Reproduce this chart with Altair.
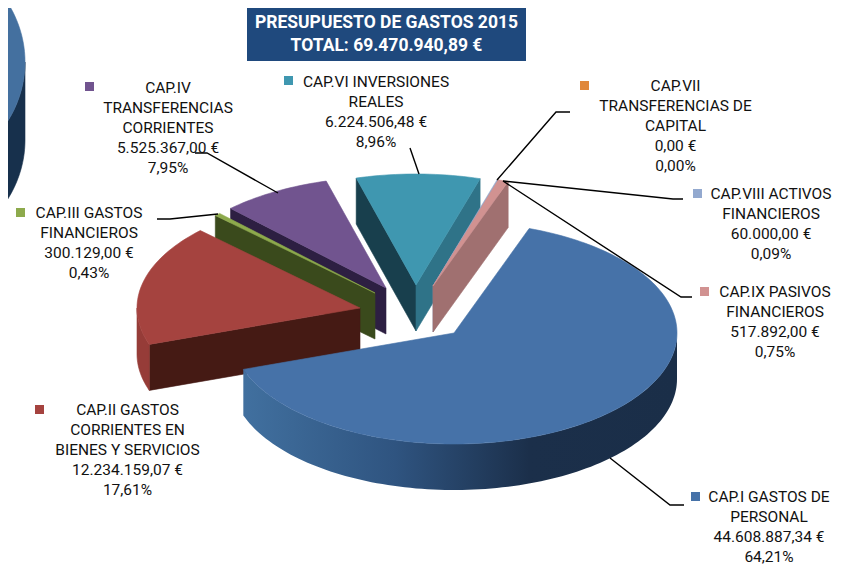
import math
import altair as alt
import pandas as pd

FONT = "Roboto"
W, H = 825, 558

# ---- data ----
chapters = [
    ["CAP.I GASTOS DE", "PERSONAL"],
    ["CAP.II GASTOS", "CORRIENTES EN", "BIENES Y SERVICIOS"],
    ["CAP.III GASTOS", "FINANCIEROS"],
    ["CAP.IV", "TRANSFERENCIAS", "CORRIENTES"],
    ["CAP.VI INVERSIONES", "REALES"],
    ["CAP.VII", "TRANSFERENCIAS DE", "CAPITAL"],
    ["CAP.VIII ACTIVOS", "FINANCIEROS"],
    ["CAP.IX PASIVOS", "FINANCIEROS"],
]
values = [44608887.34, 12234159.07, 300129.00, 5525367.00, 6224506.48, 0.00, 60000.00, 517892.00]
amount_labels = ["44.608.887,34 €", "12.234.159,07 €", "300.129,00 €", "5.525.367,00 €",
                 "6.224.506,48 €", "0,00 €", "60.000,00 €", "517.892,00 €"]
share_labels = ["64,21%", "17,61%", "0,43%", "7,95%", "8,96%", "0,00%", "0,09%", "0,75%"]
title_lines = ["PRESUPUESTO DE GASTOS 2015", "TOTAL: 69.470.940,89 €"]

# ---- styling and layout ----
key_colors = ["#4672A8", "#A5433F", "#8DAA4C", "#71548F", "#3F97B0", "#E0883C", "#93A9CF", "#D19291"]
start_wall = [None, "#451A14", "#3A4A1C", "#2D1F42", "#183F4D", None, None, None]
end_wall = [None, None, None, None, "#2F7388", None, "#7888A8", "#A07070"]
outer_wall = ["grad", "#963C38", None, None, None, None, None, None]
centers = [(454, 333), (360, 308), (375, 293), (386, 288), (416, 285), (433, 286), (433, 286), (433, 286)]
paint_order = [4, 6, 7, 3, 2, 1, 0]
label_x = [769, 127.5, 89, 168, 376, 675.5, 771, 775]
label_y = [497, 410, 213, 88, 82, 86, 194, 292]
key_x = [695.5, 39.5, 20.5, 89.5, 288.5, 584.5, 697.5, 704.5]
key_y = [496.5, 409.5, 212.5, 86.5, 80.5, 85.5, 193.5, 291.5]
leaders = [
    [(610, 458), (670, 505), (684, 505)],
    [(157, 219), (170, 219), (218, 214)],
    [(195, 153), (207, 153), (278, 193)],
    [(410, 148), (419, 174)],
    [(570, 112), (556, 112), (497, 180)],
    [(503, 181), (673, 199), (683, 199)],
    [(503, 181), (681, 297), (692, 297)],
]
RX, RY, DEPTH, START = 223, 111, 46, 19.7


def pt(c, t, rx=RX, ry=RY, d=0):
    a = math.radians(t)
    return (c[0] + rx * math.sin(a), c[1] - ry * math.cos(a) + d)


def arc(c, t0, t1, rx=RX, ry=RY, d=0):
    n = max(2, int(abs(t1 - t0) / 1.5) + 2)
    return [pt(c, t0 + (t1 - t0) * i / (n - 1), rx, ry, d) for i in range(n)]


def poly(points, fill):
    ring = [list(p) for p in points] + [list(points[0])]
    feature = {"type": "Feature", "properties": {},
               "geometry": {"type": "Polygon", "coordinates": [ring]}}
    if isinstance(fill, str):
        mark = alt.Chart(alt.Data(values=[feature])).mark_geoshape(fill=fill, stroke=fill, strokeWidth=0.6)
    else:
        mark = alt.Chart(alt.Data(values=[feature])).mark_geoshape(fill=fill, strokeWidth=0)
    return mark.project(type="identity", scale=1, translate=[-8, -8])


blue_wall = alt.Gradient(
    gradient="linear", x1=0, x2=1, y1=0, y2=0,
    stops=[alt.GradientStop(offset=0, color="#41709F"),
           alt.GradientStop(offset=0.35, color="#2F5480"),
           alt.GradientStop(offset=0.66, color="#1B2F4A"),
           alt.GradientStop(offset=1, color="#1A2E48")])

layers = []

# fragment of another pie, cut by the left edge of the page
blob_c, blob_rx, blob_ry, blob_d = (-120, 62), 145, 125, 78
layers.append(poly(arc(blob_c, 90, 270, blob_rx, blob_ry) + arc(blob_c, 270, 90, blob_rx, blob_ry, blob_d), "#17304C"))
layers.append(poly(arc(blob_c, 0, 360, blob_rx, blob_ry), "#44709F"))

total = sum(values)
angle = START
spans = []
for v in values:
    spans.append((angle, angle + 360 * v / total))
    angle = spans[-1][1]

for i in paint_order:
    t0, t1 = spans[i]
    c = centers[i]
    bottom = (c[0], c[1] + DEPTH)
    if start_wall[i]:
        layers.append(poly([c, pt(c, t0), pt(c, t0, d=DEPTH), bottom], start_wall[i]))
    if end_wall[i]:
        layers.append(poly([c, pt(c, t1), pt(c, t1, d=DEPTH), bottom], end_wall[i]))
    if outer_wall[i]:
        a0, a1 = max(t0, 90), min(t1, 270)
        if i == 0:
            a0, a1 = 90, t1
        fill = blue_wall if outer_wall[i] == "grad" else outer_wall[i]
        layers.append(poly(arc(c, a0, a1) + arc(c, a1, a0, d=DEPTH), fill))
    layers.append(poly([c] + arc(c, t0, t1), key_colors[i]))

xs = alt.Scale(domain=[8, 8 + W], nice=False, zero=False)
ys = alt.Scale(domain=[8 + H, 8], nice=False, zero=False)

# leader lines
leader_rows = [{"id": k, "o": j, "x": p[0], "y": p[1]} for k, l in enumerate(leaders) for j, p in enumerate(l)]
layers.append(alt.Chart(pd.DataFrame(leader_rows)).mark_line(color="#000000", strokeWidth=1.4).encode(
    x=alt.X("x:Q", scale=xs, axis=None),
    y=alt.Y("y:Q", scale=ys, axis=None),
    detail="id:N", order="o:Q"))

# legend-style keys
key_df = pd.DataFrame({"x": key_x, "y": key_y, "c": key_colors})
layers.append(alt.Chart(key_df).mark_square(size=81, opacity=1, filled=True).encode(
    x=alt.X("x:Q", scale=xs, axis=None),
    y=alt.Y("y:Q", scale=ys, axis=None),
    color=alt.Color("c:N", scale=None, legend=None)))

# labels
label_rows = []
for i, lines in enumerate(chapters):
    for j, s in enumerate(lines + [amount_labels[i], share_labels[i]]):
        label_rows.append({"x": label_x[i], "y": label_y[i] + 20 * j, "t": s})
layers.append(alt.Chart(pd.DataFrame(label_rows)).mark_text(
    font=FONT, fontSize=15.5, color="#111111", align="center", baseline="middle").encode(
    x=alt.X("x:Q", scale=xs, axis=None),
    y=alt.Y("y:Q", scale=ys, axis=None),
    text="t:N"))

# title box
box = pd.DataFrame({"x": [247], "x2": [526], "y": [8], "y2": [61]})
layers.append(alt.Chart(box).mark_rect(color="#1F497D").encode(
    x=alt.X("x:Q", scale=xs, axis=None), x2="x2:Q",
    y=alt.Y("y:Q", scale=ys, axis=None), y2="y2:Q"))
title_df = pd.DataFrame({"x": [386.5, 386.5], "y": [23, 46], "t": title_lines})
layers.append(alt.Chart(title_df).mark_text(
    font=FONT, fontSize=17.5, fontWeight="bold", color="#FFFFFF", align="center", baseline="middle").encode(
    x=alt.X("x:Q", scale=xs, axis=None),
    y=alt.Y("y:Q", scale=ys, axis=None),
    text="t:N"))

chart = alt.layer(*layers).properties(
    width=W, height=H, padding=0, autosize=alt.AutoSizeParams(type="none"), background="#FFFFFF"
).configure_view(stroke=None)

chart.save("out.html", embed_options={"renderer": "svg", "actions": False})
